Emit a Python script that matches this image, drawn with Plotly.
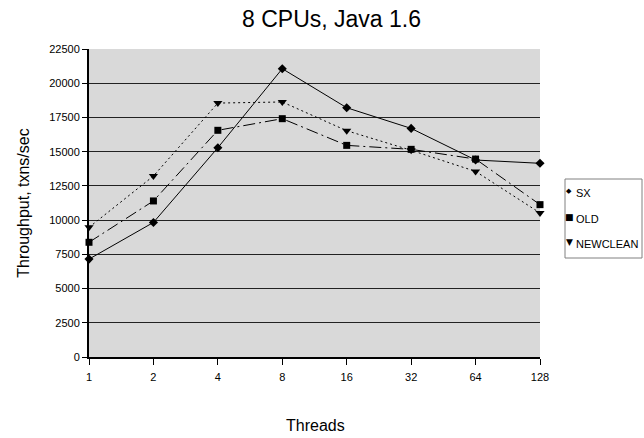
import plotly.graph_objects as go

threads = ["1", "2", "4", "8", "16", "32", "64", "128"]
sx = [7150, 9830, 15290, 21060, 18210, 16700, 14390, 14150]
old = [8380, 11400, 16560, 17410, 15460, 15170, 14460, 11130]
newclean = [9470, 13220, 18550, 18630, 16530, 15100, 13560, 10520]
yticks = [0, 2500, 5000, 7500, 10000, 12500, 15000, 17500, 20000, 22500]

FONT = "Liberation Sans, Arial, sans-serif"
xs = list(range(len(threads)))

fig = go.Figure()
series = [
    ("SX", sx, "solid", "diamond", 7),
    ("OLD", old, "12px,4px,2px,4px", "square", 7),
    ("NEWCLEAN", newclean, "2px,3px", "triangle-down", 8),
]
for name, vals, dash, sym, size in series:
    fig.add_trace(go.Scatter(
        x=xs, y=vals, name=name, mode="lines+markers",
        line=dict(color="black", width=1, dash=dash),
        marker=dict(symbol=sym, size=size, color="black"),
        cliponaxis=False, showlegend=False,
    ))

# manual legend
glyphs = {"diamond": "◆", "square": "■", "triangle-down": "▼"}
lx0, lx1, ly0, ly1 = 565, 642, 179, 258
W, H = 644, 438
ml, mr, mt, mb = 89, 104, 49, 81
pw, ph = W - ml - mr, H - mt - mb
def px2x(px):
    return (px - ml) / pw
def py2y(py):
    return (H - mb - py) / ph
fig.add_shape(type="rect", xref="paper", yref="paper",
              x0=px2x(lx0), x1=px2x(lx1), y0=py2y(ly1), y1=py2y(ly0),
              line=dict(color="#808080", width=1), fillcolor="white")
item_y = [193, 219, 244]
gsize = {"diamond": 7, "square": 9, "triangle-down": 9}
for (name, vals, dash, sym, size), yy in zip(series, item_y):
    fig.add_annotation(x=px2x(569), y=py2y(yy - 2), xref="paper", yref="paper",
                       text=glyphs[sym], showarrow=False, xanchor="center", yanchor="middle",
                       font=dict(family="DejaVu Sans", size=gsize[sym], color="black"))
    fig.add_annotation(x=px2x(574), y=py2y(yy), xref="paper", yref="paper",
                       text=name, showarrow=False, xanchor="left", yanchor="middle",
                       font=dict(family=FONT, size=11, color="black"))

# x axis title
fig.add_annotation(x=px2x(315), y=py2y(425), xref="paper", yref="paper",
                   text="Threads", showarrow=False, xanchor="center", yanchor="middle",
                   font=dict(family=FONT, size=16, color="black"))

fig.update_layout(
    width=W, height=H,
    margin=dict(l=ml, r=mr, t=mt, b=mb),
    paper_bgcolor="white",
    plot_bgcolor="#d9d9d9",
    font=dict(family=FONT, size=11, color="black"),
    title=dict(text="8 CPUs, Java 1.6", x=331.5 / W, xanchor="center",
               y=1 - 19 / H, yanchor="middle",
               font=dict(family=FONT, size=23, color="black")),
    xaxis=dict(
        range=[0, len(threads) - 1], tickmode="array", tickvals=xs, ticktext=threads,
        showgrid=False, zeroline=False, showline=True, linecolor="black", linewidth=2,
        ticks="outside", ticklen=6, tickcolor="black", ticklabelstandoff=3,
        automargin=False,
    ),
    yaxis=dict(
        range=[0, 22500], tickmode="array", tickvals=yticks,
        ticktext=[str(v) for v in yticks],
        showgrid=True, gridcolor="#222222", gridwidth=1, zeroline=False,
        showline=True, linecolor="black", linewidth=2,
        ticks="outside", ticklen=5, tickcolor="black",
        automargin=False,
        title=dict(text="Throughput, txns/sec", standoff=16, font=dict(size=16)),
    ),
)

fig.write_html("out.html")
